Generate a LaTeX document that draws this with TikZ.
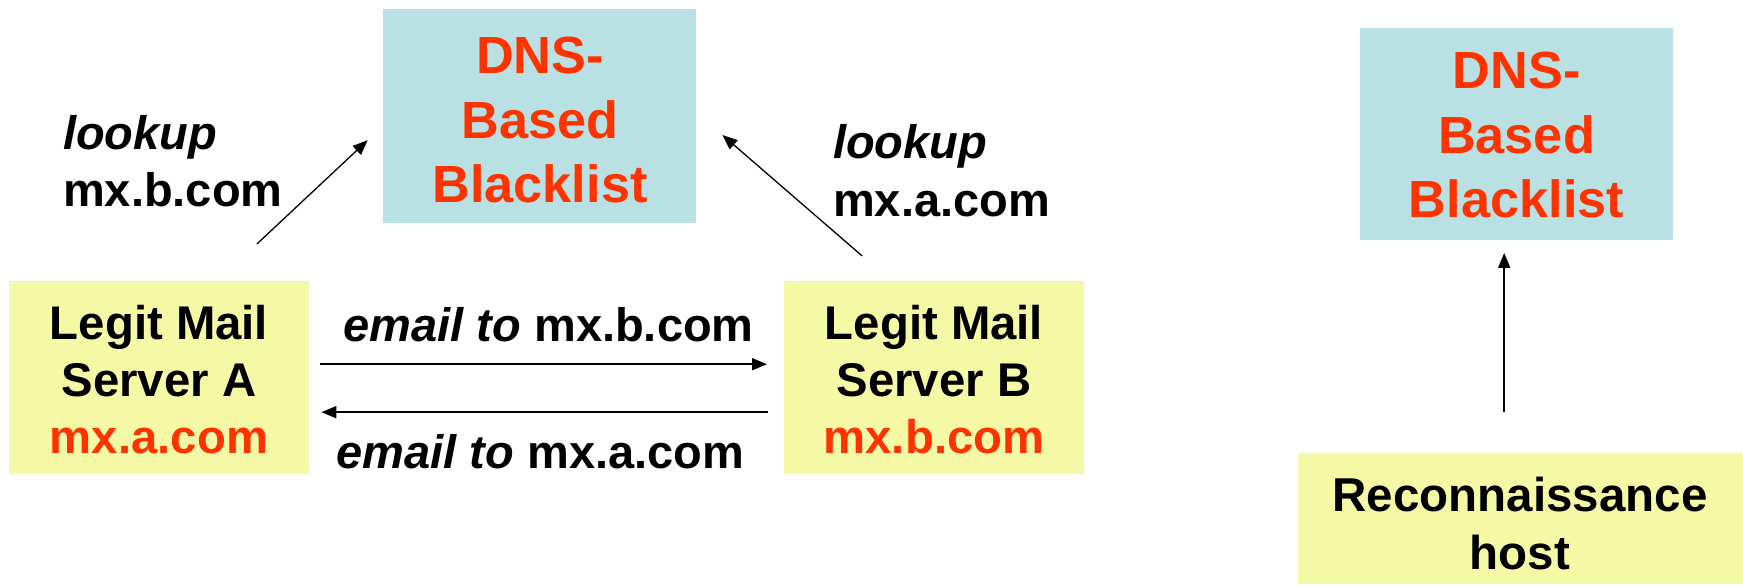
\documentclass[tikz,border=0pt]{standalone}
\usepackage{fontspec}
\setmainfont{Liberation Sans}
\usetikzlibrary{arrows.meta}
\definecolor{boxblue}{RGB}{185,224,226}
\definecolor{boxyellow}{RGB}{245,249,166}
\definecolor{txtred}{RGB}{255,51,0}
\begin{document}
\begin{tikzpicture}[x=1pt,y=-1pt,
  ybox/.style={fill=boxyellow, draw=none, inner sep=0pt, anchor=north west},
  bbox/.style={fill=boxblue, draw=none, inner sep=0pt, anchor=north west},
  boxtxt/.style={align=center, inner sep=0pt, font=\bfseries\fontsize{47.3}{57}\selectfont},
  dnstxt/.style={align=center, inner sep=0pt, text=txtred, font=\bfseries\fontsize{52.3}{64.3}\selectfont},
  lbl/.style={align=left, inner sep=0pt, anchor=west, font=\bfseries\fontsize{47}{57}\selectfont},
  arr/.style={-{Triangle[length=15pt,width=12pt]}, line width=1.7pt},
  thinarr/.style={-{Triangle[length=15pt,width=12pt]}, line width=1.3pt}]
\useasboundingbox (0,0) rectangle (1743,584);
% boxes
\node[bbox, minimum width=313pt, minimum height=214pt] (dns1) at (383,9) {};
\node[ybox, minimum width=300pt, minimum height=192.5pt] (A) at (9,281) {};
\node[ybox, minimum width=300pt, minimum height=192.5pt] (B) at (784,281) {};
\node[bbox, minimum width=312.5pt, minimum height=211.5pt] (dns2) at (1360,28) {};
\node[ybox, minimum width=445pt, minimum height=131pt] (R) at (1298,453) {};
% box texts
\node[dnstxt] (dns1t) at (540,120) {DNS-\\Based\\Blacklist};
\node[dnstxt] (dns2t) at (1516.5,135) {DNS-\\Based\\Blacklist};
\node[boxtxt] (At) at (159,379.3) {Legit Mail\\Server A\\\textcolor{txtred}{mx.a.com}};
\node[boxtxt] (Bt) at (934,379.3) {Legit Mail\\Server B\\\textcolor{txtred}{mx.b.com}};
\node[boxtxt, font=\bfseries\fontsize{47.5}{58}\selectfont] (Rt) at (1520,523.5) {Reconnaissance\\host};
% labels
\node[lbl] (lk1) at (63,160.7) {\textit{lookup}\\mx.b.com};
\node[lbl, font=\bfseries\fontsize{47}{58}\selectfont] (lk2) at (833,170.2) {\textit{lookup}\\mx.a.com};
\node[lbl, anchor=base] (em1) at (548.6,341) {\textit{email to} mx.b.com};
\node[lbl, anchor=base] (em2) at (540.4,468.5) {\textit{email to} mx.a.com};
% connectors
\draw[arr] ([xshift=11pt,yshift=13.25pt]A.east) -- ([xshift=-17pt,yshift=13.25pt]B.west);
\draw[arr] ([xshift=-16pt,yshift=-34.75pt]B.west) -- ([xshift=12pt,yshift=-34.75pt]A.east);
\draw[thinarr] ([xshift=97.7pt,yshift=37pt]A.north) -- ([xshift=-15.3pt,yshift=-24pt]dns1.west);
\draw[thinarr] ([xshift=-72pt,yshift=25pt]B.north) -- ([xshift=26pt,yshift=-18.8pt]dns1.east);
\draw[arr] ([xshift=-16.5pt,yshift=41.5pt]R.north) -- ([xshift=-12.25pt,yshift=-13pt]dns2.south);
\end{tikzpicture}
\end{document}
